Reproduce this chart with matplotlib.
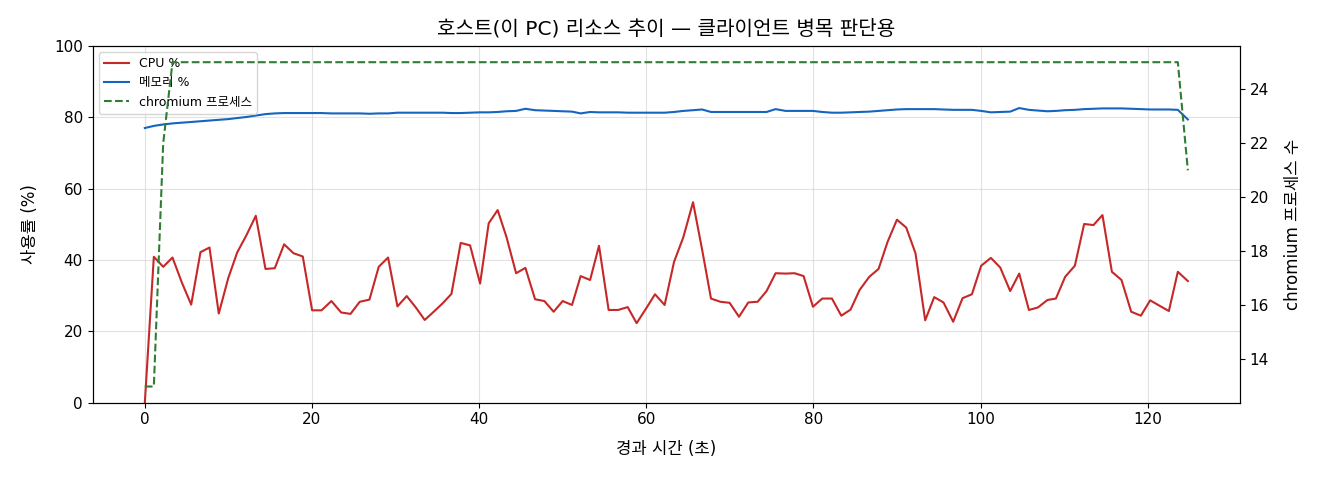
import matplotlib
matplotlib.use("Agg")
import matplotlib.pyplot as plt

plt.rcParams['font.family'] = ['DejaVu Sans', 'Noto Sans CJK KR']
plt.rcParams['axes.unicode_minus'] = False

elapsed_s = [0.0, 1.08, 2.20, 3.31, 4.43, 5.55, 6.66, 7.74, 8.85, 9.98,
             11.05, 12.17, 13.28, 14.44, 15.55, 16.67, 17.79, 18.90, 20.02, 21.14,
             22.33, 23.49, 24.61, 25.72, 26.88, 27.99, 29.11, 30.23, 31.34, 32.46,
             33.49, 34.57, 35.65, 36.69, 37.80, 38.92, 40.12, 41.15, 42.22, 43.27,
             44.43, 45.54, 46.70, 47.81, 48.92, 50.00, 51.12, 52.15, 53.28, 54.35,
             55.50, 56.63, 57.78, 58.85, 59.98, 61.05, 62.20, 63.33, 64.44, 65.60,
             66.68, 67.75, 68.86, 69.98, 71.10, 72.21, 73.33, 74.40, 75.48, 76.67,
             77.75, 78.83, 79.95, 81.06, 82.22, 83.34, 84.45, 85.53, 86.69, 87.80,
             88.88, 90.00, 91.11, 92.22, 93.38, 94.46, 95.57, 96.73, 97.85, 98.97,
             100.08, 101.24, 102.36, 103.55, 104.63, 105.79, 106.87, 108.01, 109.02, 110.13,
             111.29, 112.40, 113.52, 114.59, 115.72, 116.87, 118.03, 119.19, 120.30, 121.41,
             122.54, 123.61, 124.81]

cpu_pct = [0.0, 40.9, 38.1, 40.7, 33.7, 27.5, 42.2, 43.5, 25.0, 34.9,
           42.1, 47.0, 52.4, 37.5, 37.7, 44.4, 41.9, 41.0, 25.9, 25.9,
           28.5, 25.3, 24.9, 28.3, 28.9, 38.1, 40.7, 27.0, 29.9, 26.6,
           23.2, 25.5, 27.9, 30.5, 44.8, 44.1, 33.4, 50.3, 54.0, 46.5,
           36.3, 37.8, 29.0, 28.5, 25.5, 28.5, 27.4, 35.5, 34.4, 44.0,
           26.0, 26.0, 26.8, 22.3, 26.4, 30.4, 27.4, 39.5, 46.4, 56.2,
           43.0, 29.2, 28.3, 28.0, 24.1, 28.1, 28.3, 31.3, 36.3, 36.2,
           36.3, 35.5, 26.9, 29.2, 29.2, 24.4, 26.1, 31.6, 35.3, 37.5,
           45.1, 51.3, 49.1, 41.9, 23.1, 29.6, 28.1, 22.7, 29.3, 30.4,
           38.4, 40.6, 37.9, 31.3, 36.2, 26.0, 26.7, 28.8, 29.2, 35.3,
           38.4, 50.1, 49.8, 52.6, 36.7, 34.4, 25.5, 24.4, 28.7, 27.2,
           25.7, 36.7, 34.1]

mem_pct = [77.0, 77.6, 78.0, 78.3, 78.5, 78.7, 78.9, 79.1, 79.3, 79.5,
           79.8, 80.1, 80.5, 80.9, 81.1, 81.2, 81.2, 81.2, 81.2, 81.2,
           81.1, 81.1, 81.1, 81.1, 81.0, 81.1, 81.1, 81.3, 81.3, 81.3,
           81.3, 81.3, 81.3, 81.2, 81.2, 81.3, 81.4, 81.4, 81.5, 81.7,
           81.8, 82.4, 82.0, 81.9, 81.8, 81.7, 81.6, 81.1, 81.5, 81.4,
           81.4, 81.4, 81.3, 81.3, 81.3, 81.3, 81.3, 81.5, 81.8, 82.0,
           82.2, 81.5, 81.5, 81.5, 81.5, 81.5, 81.5, 81.5, 82.3, 81.8,
           81.8, 81.8, 81.8, 81.5, 81.3, 81.3, 81.4, 81.5, 81.6, 81.8,
           82.0, 82.2, 82.3, 82.3, 82.3, 82.3, 82.2, 82.1, 82.1, 82.1,
           81.8, 81.4, 81.5, 81.6, 82.6, 82.1, 81.9, 81.7, 81.8, 82.0,
           82.1, 82.3, 82.4, 82.5, 82.5, 82.5, 82.4, 82.3, 82.2, 82.2,
           82.2, 82.1, 79.4]

chromium_procs = [13, 13, 22] + [25] * 108 + [25, 21]

fig = plt.figure(figsize=(13.2, 4.8), dpi=100)
ax = fig.add_axes([0.0702, 0.161, 0.8692, 0.7432])
ax2 = ax.twinx()

l1, = ax.plot(elapsed_s, cpu_pct, color='#c62828', lw=1.5, label='CPU %')
l2, = ax.plot(elapsed_s, mem_pct, color='#1565c0', lw=1.5, label='메모리 %')
l3, = ax2.plot(elapsed_s, chromium_procs, color='#2e7d32', lw=1.5, ls='--',
               label='chromium 프로세스')

ax.set_ylim(0, 100)
ax.set_yticks([0, 20, 40, 60, 80, 100])
ax.grid(True, color='#d0d0d0', alpha=0.6, lw=0.8)
ax.set_xlabel('경과 시간 (초)', fontsize=12, labelpad=9)
ax.set_ylabel('사용률 (%)', fontsize=12, labelpad=11)
ax2.set_ylabel('chromium 프로세스 수', fontsize=12, labelpad=11)
ax.tick_params(labelsize=11)
ax2.tick_params(labelsize=11)
ax.set_title('호스트(이 PC) 리소스 추이 — 클라이언트 병목 판단용', fontsize=14.5, pad=8)

leg = ax.legend(handles=[l1, l2, l3], loc='upper left', fontsize=9,
                framealpha=0.8)

fig.savefig('out.png', dpi=100)
